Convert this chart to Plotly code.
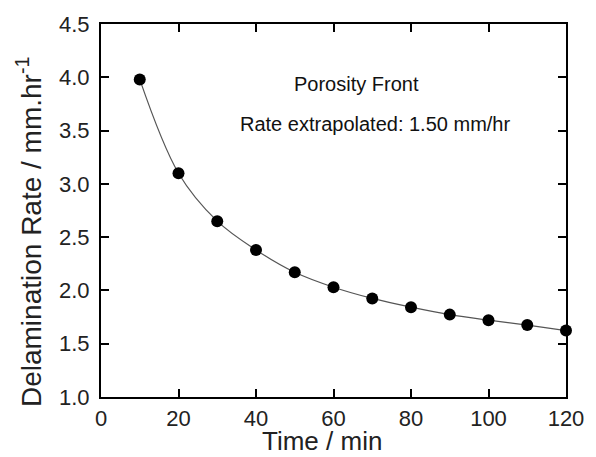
import plotly.graph_objects as go

time_min = [10, 20, 30, 40, 50, 60, 70, 80, 90, 100, 110, 120]
rate = [3.98, 3.10, 2.65, 2.38, 2.17, 2.03, 1.925, 1.843, 1.773, 1.721, 1.675, 1.623]

x_ticks = [0, 20, 40, 60, 80, 100, 120]
y_ticks = [1.0, 1.5, 2.0, 2.5, 3.0, 3.5, 4.0, 4.5]
y_tick_labels = ["1.0", "1.5", "2.0", "2.5", "3.0", "3.5", "4.0", "4.5"]

font_family = "Liberation Sans, Arial, sans-serif"

fig = go.Figure()
fig.add_trace(go.Scatter(
    x=time_min, y=rate, mode="lines",
    line=dict(color="#555555", width=1.2, shape="spline", smoothing=1.0),
    hoverinfo="skip", showlegend=False,
))
fig.add_trace(go.Scatter(
    x=time_min, y=rate, mode="markers",
    marker=dict(color="black", size=12),
    showlegend=False, cliponaxis=False,
))

axis_common = dict(
    showline=True, linecolor="black", linewidth=2, mirror="ticks",
    ticks="inside", ticklen=8, tickwidth=2, tickcolor="black",
    showgrid=False, zeroline=False,
    tickfont=dict(family=font_family, size=22, color="#222222"),
)

fig.update_layout(
    width=596, height=457,
    margin=dict(l=101, r=20, t=15, b=60),
    paper_bgcolor="white", plot_bgcolor="white",
    font=dict(family=font_family, color="#222222"),
    xaxis=dict(range=[0, 120], tickvals=x_ticks, ticklabelstandoff=1, **axis_common),
    yaxis=dict(range=[1.0, 4.5], tickvals=y_ticks, ticktext=y_tick_labels, ticklabelstandoff=5, **axis_common),
    annotations=[
        dict(x=66, y=3.935, xref="x", yref="y", text="Porosity Front", showarrow=False,
             font=dict(size=20, family=font_family, color="#111111")),
        dict(x=70.7, y=3.565, xref="x", yref="y", text="Rate extrapolated: 1.50 mm/hr", showarrow=False,
             font=dict(size=20, family=font_family, color="#111111")),
        dict(x=0.476, y=-0.118, xref="paper", yref="paper", text="Time / min", showarrow=False,
             xanchor="center", yanchor="middle",
             font=dict(size=26, family=font_family, color="#222222")),
        dict(x=-0.155, y=0.442, xref="paper", yref="paper",
             text="Delamination Rate / mm.hr<sup>-1</sup>", showarrow=False, textangle=-90,
             xanchor="center", yanchor="middle",
             font=dict(size=28, family=font_family, color="#222222")),
    ],
)

fig.write_html("out.html")
